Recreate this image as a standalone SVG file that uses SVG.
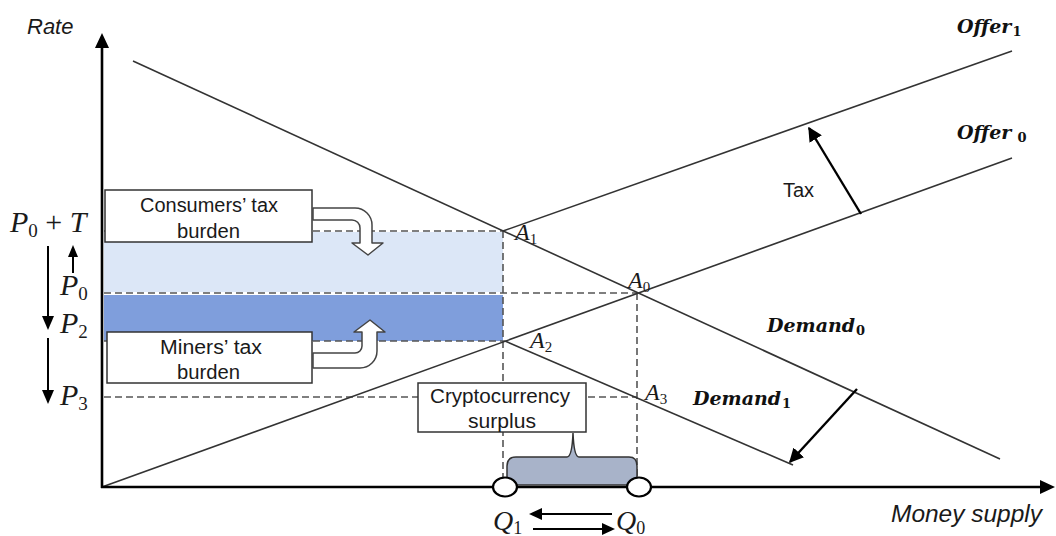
<svg xmlns="http://www.w3.org/2000/svg" width="1056" height="536" viewBox="0 0 1056 536">
  <style>
    .axis { stroke: #000; stroke-width: 2.6; fill: none; }
    .curve { stroke: #333; stroke-width: 1.6; fill: none; }
    .dash { stroke: #555; stroke-width: 1.6; stroke-dasharray: 7 4; fill: none; }
    .box { fill: #fff; stroke: #333; stroke-width: 1.5; }
    .label { font-family: "Liberation Sans", Arial, sans-serif; font-size: 20px; fill: #1a1a1a; }
    .axislbl { font-family: "Liberation Sans", Arial, sans-serif; font-style: italic; fill: #1a1a1a; }
    .math { font-family: "Liberation Serif", "Times New Roman", serif; font-style: italic; fill: #1a1a1a; }
    .sub { font-family: "Liberation Serif", "Times New Roman", serif; font-style: normal; fill: #1a1a1a; }
    .curvelbl { font-family: "DejaVu Serif", serif; font-weight: bold; font-style: italic; font-size: 19px; fill: #111; }
    .curvesub { font-family: "DejaVu Serif", serif; font-weight: bold; font-style: normal; font-size: 13px; fill: #111; }
    .blockarrow { fill: #fff; stroke: #444; stroke-width: 1.5; stroke-linejoin: round; }
    .pointer { stroke: #000; stroke-width: 2.4; fill: none; }
  </style>
  <defs>
    <marker id="head" viewBox="0 0 10 10" refX="9" refY="5" markerWidth="6" markerHeight="6" orient="auto" markerUnits="strokeWidth">
      <path d="M0,0 L10,5 L0,10 Z" fill="#000"/>
    </marker>
  </defs>

  <rect width="1056" height="536" fill="#fff"/>

  <!-- tax burden areas -->
  <g id="burden-areas">
    <rect x="104" y="232" width="399" height="60" fill="#dce7f7"/>
    <rect x="104" y="295" width="399" height="46" fill="#7f9edc"/>
  </g>

  <!-- connectors: guide lines, curves, axes, shift arrows -->
  <g id="connectors">
    <!-- dashed guides -->
    <line class="dash" x1="104" y1="231" x2="503" y2="231"/>
    <line class="dash" x1="104" y1="293" x2="637" y2="293"/>
    <line class="dash" x1="104" y1="341" x2="505" y2="341"/>
    <line class="dash" x1="104" y1="397" x2="637" y2="397"/>
    <line class="dash" x1="503" y1="231" x2="503" y2="487"/>
    <line class="dash" x1="637" y1="293" x2="637" y2="487"/>

    <!-- supply and demand curves -->
    <line class="curve" x1="133" y1="61" x2="1000" y2="459"/>
    <line class="curve" x1="102" y1="487" x2="1012" y2="158"/>
    <line class="curve" x1="503" y1="231" x2="1012" y2="51"/>
    <line class="curve" x1="505" y1="341" x2="793" y2="465"/>

    <!-- axes -->
    <line class="axis" x1="102" y1="488" x2="102" y2="46"/>
    <path d="M102,33 L95,48 L109,48 Z" fill="#000"/>
    <line class="axis" x1="101" y1="487" x2="1042" y2="487"/>
    <path d="M1055,487 L1040,480 L1040,494 Z" fill="#000"/>

    <!-- tax shift and demand shift -->
    <line class="pointer" x1="861" y1="214" x2="809" y2="128" marker-end="url(#head)"/>
    <line class="pointer" x1="857" y1="389" x2="790" y2="462" marker-end="url(#head)"/>

    <!-- price movement arrows -->
    <line x1="48" y1="246" x2="48" y2="318" stroke="#000" stroke-width="2"/>
    <path d="M48,330 L42,316 L54,316 Z" fill="#000"/>
    <line x1="48" y1="338" x2="48" y2="392" stroke="#000" stroke-width="2"/>
    <path d="M48,404 L42,390 L54,390 Z" fill="#000"/>
    <line x1="73" y1="273" x2="73" y2="255" stroke="#000" stroke-width="2"/>
    <path d="M73,245 L68,257 L78,257 Z" fill="#000"/>

    <!-- quantity movement arrows -->
    <line x1="612" y1="514" x2="540" y2="514" stroke="#000" stroke-width="2"/>
    <path d="M529,514 L542,508 L542,520 Z" fill="#000"/>
    <line x1="533" y1="529" x2="604" y2="529" stroke="#000" stroke-width="2"/>
    <path d="M615,529 L602,523 L602,535 Z" fill="#000"/>
  </g>

  <!-- consumers' tax burden -->
  <g id="consumers-burden">
    <rect class="box" x="105" y="190" width="207" height="52"/>
    <text class="label" x="140" y="212" textLength="138" lengthAdjust="spacingAndGlyphs">Consumers’ tax</text>
    <text class="label" x="177" y="238" textLength="63" lengthAdjust="spacingAndGlyphs">burden</text>
    <path class="blockarrow" d="M313,208 H355 A17,17 0 0 1 372,225 V243 H383 L368,255 L352,243 H360 V228 A8,8 0 0 0 352,220 H313 Z"/>
  </g>

  <!-- miners' tax burden -->
  <g id="miners-burden">
    <rect class="box" x="107" y="332" width="205" height="51"/>
    <text class="label" x="160" y="354" textLength="102" lengthAdjust="spacingAndGlyphs">Miners’ tax</text>
    <text class="label" x="177" y="379" textLength="63" lengthAdjust="spacingAndGlyphs">burden</text>
    <path class="blockarrow" d="M313,368 H360 A17,17 0 0 0 377,351 V332 H385 L370,320 L354,332 H362 V346 A7,7 0 0 1 355,353 H313 Z"/>
  </g>

  <!-- cryptocurrency surplus -->
  <g id="surplus">
    <path d="M507,485 L507,466 Q507,457 516,457 L567,457 Q572,457 573,433 Q574,457 579,457 L629,457 Q637,457 637,466 L637,485 Z" fill="#a8b3c9" stroke="#333" stroke-width="1.5"/>
    <rect class="box" x="418" y="383" width="168" height="49"/>
    <text class="label" x="430" y="403" textLength="140" lengthAdjust="spacingAndGlyphs">Cryptocurrency</text>
    <text class="label" x="468" y="428" textLength="68" lengthAdjust="spacingAndGlyphs">surplus</text>
  </g>

  <!-- quantity markers -->
  <g id="q-markers">
    <ellipse cx="505" cy="487" rx="12" ry="9.5" fill="#fff" stroke="#000" stroke-width="2.2"/>
    <ellipse cx="639" cy="487" rx="12" ry="9.5" fill="#fff" stroke="#000" stroke-width="2.2"/>
  </g>

  <!-- axis titles -->
  <g id="axis-titles">
    <text class="axislbl" x="27" y="34" font-size="22">Rate</text>
    <text class="axislbl" x="891" y="522" font-size="23" textLength="151" lengthAdjust="spacingAndGlyphs">Money supply</text>
  </g>

  <!-- price labels -->
  <g id="price-labels">
    <text class="math" x="10" y="232" font-size="30">P<tspan class="sub" font-size="19" dy="5">0</tspan><tspan class="sub" font-size="30" dy="-5"> + </tspan>T</text>
    <text class="math" x="60" y="295" font-size="30">P<tspan class="sub" font-size="19" dy="5">0</tspan></text>
    <text class="math" x="60" y="333" font-size="30">P<tspan class="sub" font-size="19" dy="5">2</tspan></text>
    <text class="math" x="60" y="405" font-size="30">P<tspan class="sub" font-size="19" dy="5">3</tspan></text>
  </g>

  <!-- quantity labels -->
  <g id="quantity-labels">
    <text class="math" x="493" y="530" font-size="28">Q<tspan class="sub" font-size="18" dy="4">1</tspan></text>
    <text class="math" x="616" y="530" font-size="28">Q<tspan class="sub" font-size="18" dy="4">0</tspan></text>
  </g>

  <!-- equilibrium points -->
  <g id="points">
    <text class="math" x="515" y="240" font-size="24">A<tspan class="sub" font-size="15" dy="4">1</tspan></text>
    <text class="math" x="628" y="288" font-size="24">A<tspan class="sub" font-size="15" dy="4">0</tspan></text>
    <text class="math" x="530" y="348" font-size="24">A<tspan class="sub" font-size="15" dy="4">2</tspan></text>
    <text class="math" x="645" y="400" font-size="24">A<tspan class="sub" font-size="15" dy="4">3</tspan></text>
  </g>

  <!-- curve labels -->
  <g id="curve-labels">
    <text class="curvelbl" x="957" y="33">Offer<tspan class="curvesub" dx="1" dy="3">1</tspan></text>
    <text class="curvelbl" x="957" y="139">Offer<tspan class="curvesub" dx="6" dy="3">0</tspan></text>
    <text class="curvelbl" x="767" y="332">Demand<tspan class="curvesub" dx="1" dy="3">0</tspan></text>
    <text class="curvelbl" x="693" y="405">Demand<tspan class="curvesub" dx="1" dy="3">1</tspan></text>
    <text class="label" x="783" y="197" font-size="18">Tax</text>
  </g>
</svg>
